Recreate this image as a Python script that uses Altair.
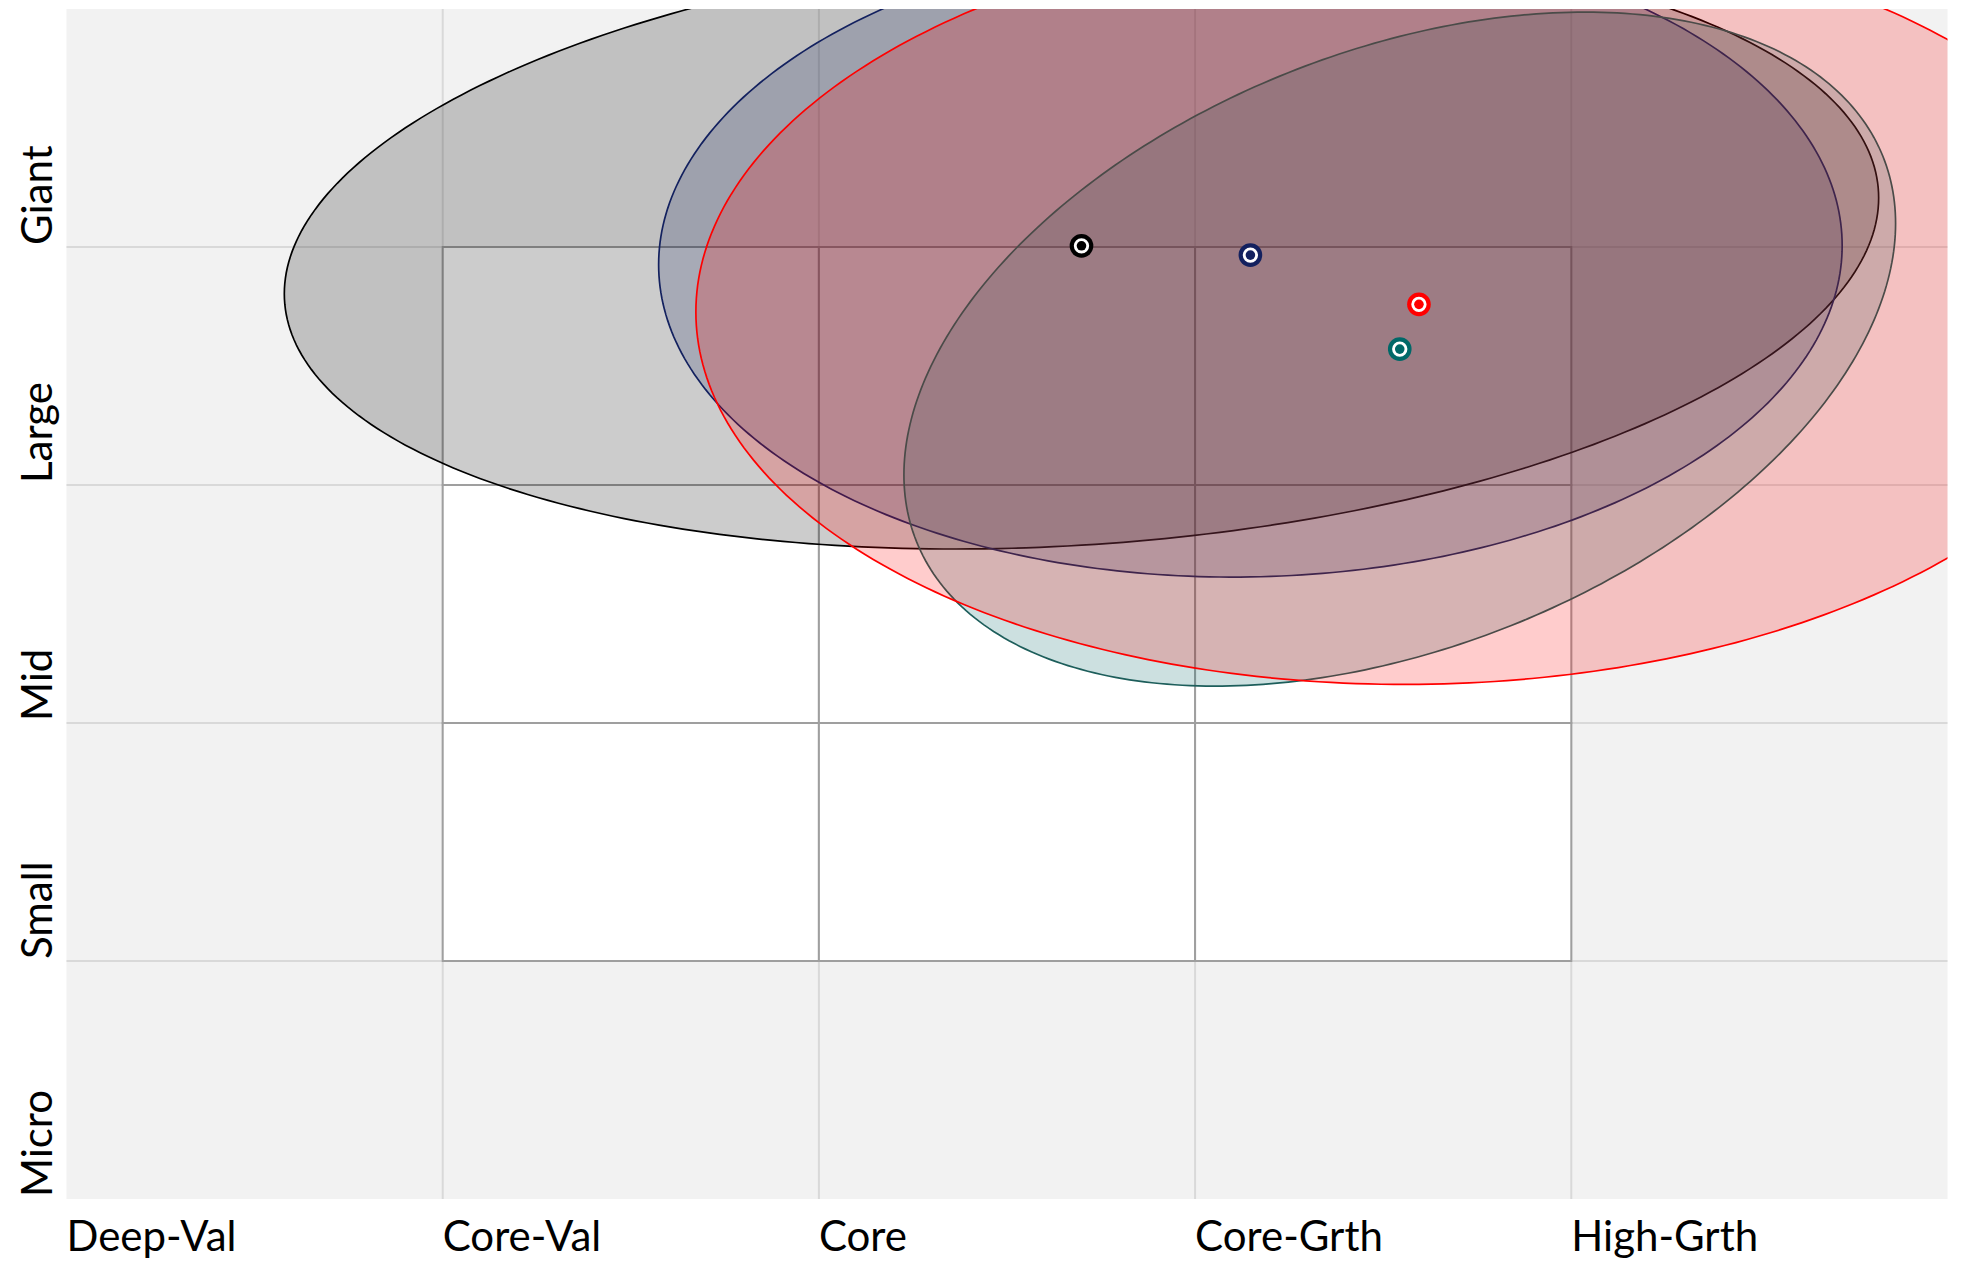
import altair as alt
import pandas as pd

# ---- axis categories (columns left->right, rows bottom->top) ----
x_labels = ["Deep-Val", "Core-Val", "Core", "Core-Grth", "High-Grth"]
y_labels = ["Micro", "Small", "Mid", "Large", "Giant"]
grid_x = [1, 2, 3, 4]
grid_y = [1, 2, 3, 4]

# ---- the white 3x3 box (column / row indexes) ----
box_cols = [1, 2, 3]
box_rows = [1, 2, 3]

# ---- series (drawing order) ----
series = ["A", "B", "C", "D"]
center_x = [2.698, 3.147, 3.544, 3.595]
center_y = [4.005, 3.966, 3.571, 3.759]
half_width = [2.119, 1.573, 1.318, 1.922]
half_height = [1.274, 1.353, 1.416, 1.597]
tilt_deg = [9.1, 1.7, 21.9, 1.15]
fill_colors = ["#000000", "#13215f", "#006666", "#ff0000"]
stroke_colors = ["#000000", "#13215f", "#1d5e5b", "#ff0000"]
dot_colors = ["#000000", "#13215f", "#006868", "#ff0000"]

FONT = "Lato"

x_scale = alt.Scale(domain=[0, len(x_labels)], nice=False, zero=False)
y_scale = alt.Scale(domain=[0, len(y_labels)], nice=False, zero=False)

# ---- gridlines ----
gx = alt.Chart(pd.DataFrame({"gx": grid_x})).mark_rule(color="#d9d9d9", strokeWidth=2).encode(
    x=alt.X("gx:Q", scale=x_scale, axis=None))
gy = alt.Chart(pd.DataFrame({"gy": grid_y})).mark_rule(color="#d9d9d9", strokeWidth=2).encode(
    y=alt.Y("gy:Q", scale=y_scale, axis=None))

# ---- white cells ----
cells_df = pd.DataFrame([(c, r) for c in box_cols for r in box_rows], columns=["c", "r"])
cells = alt.Chart(cells_df).mark_rect(fill="#ffffff", stroke="#9f9f9f", strokeWidth=2).transform_calculate(
    c2="datum.c + 1", r2="datum.r + 1"
).encode(
    x=alt.X("c:Q", scale=x_scale, axis=None), x2="c2:Q",
    y=alt.Y("r:Q", scale=y_scale, axis=None), y2="r2:Q")

# ---- ellipses ----
ell_df = pd.DataFrame({"series": series, "cx": center_x, "cy": center_y,
                       "rx": half_width, "ry": half_height, "tilt": tilt_deg})
ellipses = []
for i, s in enumerate(series):
    e = alt.Chart(ell_df).transform_filter(alt.datum.series == s).transform_calculate(
        t="sequence(0, 180.5, 1)"
    ).transform_flatten(["t"]).transform_calculate(
        ex="datum.cx + datum.rx * cos(datum.t * PI / 180)",
        hi="datum.cy + datum.ry * sin((datum.t + datum.tilt) * PI / 180)",
        lo="datum.cy + datum.ry * sin((datum.tilt - datum.t) * PI / 180)",
    ).mark_area(clip=True, fill=fill_colors[i], fillOpacity=0.2,
                stroke=stroke_colors[i], strokeWidth=1.7, strokeOpacity=1).encode(
        x=alt.X("ex:Q", scale=x_scale, axis=None),
        y=alt.Y("lo:Q", scale=y_scale, axis=None, stack=None),
        y2="hi:Q")
    ellipses.append(e)

# ---- centre markers (outer ring, white ring, centre) ----
dots_df = pd.DataFrame({"series": series, "cx": center_x, "cy": center_y})
color_scale = alt.Scale(domain=series, range=dot_colors)
dot_base = alt.Chart(dots_df).encode(
    x=alt.X("cx:Q", scale=x_scale, axis=None),
    y=alt.Y("cy:Q", scale=y_scale, axis=None))
dot_outer = dot_base.mark_circle(size=560, opacity=1).encode(
    color=alt.Color("series:N", scale=color_scale, legend=None))
dot_white = dot_base.mark_circle(size=235, opacity=1, color="#ffffff")
dot_inner = dot_base.mark_circle(size=92, opacity=1).encode(
    color=alt.Color("series:N", scale=color_scale, legend=None))

# ---- category labels (text marks placed through the scales) ----
xl_df = pd.DataFrame({"label": x_labels, "pos": list(range(len(x_labels)))})
x_text = alt.Chart(xl_df).mark_text(
    align="left", baseline="top", dy=19, fontSize=42, font=FONT, color="#000000"
).encode(
    x=alt.X("pos:Q", scale=x_scale, axis=None),
    y=alt.YDatum(0, scale=y_scale, axis=None),
    text="label:N")

yl_df = pd.DataFrame({"label": y_labels, "pos": list(range(len(y_labels)))})
y_text = alt.Chart(yl_df).mark_text(
    align="left", baseline="alphabetic", angle=270, dx=2, dy=-15,
    fontSize=42, font=FONT, color="#000000"
).encode(
    x=alt.XDatum(0, scale=x_scale, axis=None),
    y=alt.Y("pos:Q", scale=y_scale, axis=None),
    text="label:N")

chart = alt.layer(gx, gy, cells, *ellipses, dot_outer, dot_white, dot_inner,
                  x_text, y_text).properties(
    width=1881, height=1190,
    autosize=alt.AutoSizeParams(type="none"),
    padding={"left": 58.5, "top": 1, "right": 10, "bottom": 70},
).configure_view(fill="#f2f2f2", strokeWidth=0)

chart.save("out.html", embed_options={"renderer": "svg", "actions": False})
